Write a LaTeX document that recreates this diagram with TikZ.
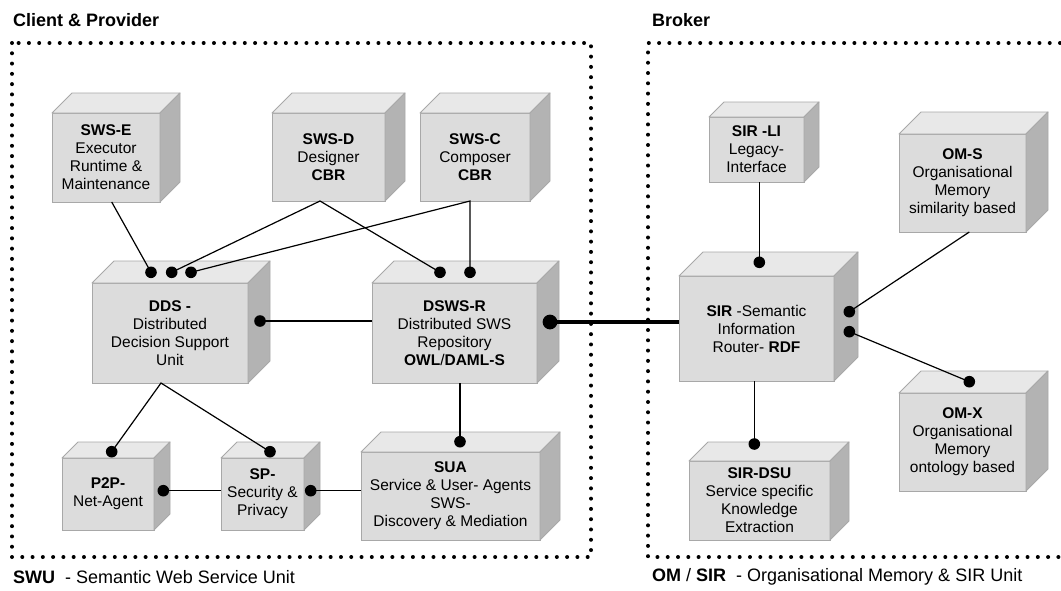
\documentclass[tikz,border=0pt]{standalone}
\usepackage{fontspec}
\setmainfont{Liberation Sans}
\definecolor{frontcol}{HTML}{DCDCDC}
\definecolor{topcol}{HTML}{E8E8E8}
\definecolor{sidecol}{HTML}{B3B3B3}
\definecolor{edgecol}{HTML}{A8A8A8}
\tikzset{
  front/.style={draw=edgecol, fill=frontcol, line width=0.9pt, rectangle, inner sep=0pt, outer sep=0pt, align=center, font=\fontsize{15.5}{18}\selectfont},
  topface/.style={draw=edgecol, fill=topcol, line width=0.9pt, line join=round},
  sideface/.style={draw=edgecol, fill=sidecol, line width=0.9pt, line join=round},
  conn/.style={draw=black, line width=1.2pt},
  thickconn/.style={draw=black, line width=3.3pt},
  dotframe/.style={draw=black, line width=4pt, dash pattern=on 0pt off 10.28pt, line cap=round},
  lbl/.style={anchor=west, inner sep=0pt, font=\fontsize{18}{21}\selectfont},
}
% name, cx, cy, w, h, depth, text
\newcommand\cubebox[7]{%
  \node[front, minimum width=#4pt, minimum height=#5pt] (#1) at (#2,#3) {#7};
  \path[topface] (#1.north west) -- ++(#6,-#6) -- ++(#4,0) -- (#1.north east) -- cycle;
  \path[sideface] (#1.north east) -- ++(#6,-#6) -- ++(0,#5) -- (#1.south east) -- cycle;
}
\newcommand\smalldot[1]{\fill[black] (#1) circle[radius=5.8pt];}
\newcommand\bigdot[1]{\fill[black] (#1) circle[radius=7.4pt];}
\begin{document}
\begin{tikzpicture}[x=1pt, y=-1pt]
\useasboundingbox (0,0) rectangle (1061,590);

% frames
\path[dotframe] (12,43) rectangle (591,557);
\path[dotframe] (1070.3,43) -- (648,43) -- (648,557) -- (1070.3,557);

% labels
\node[lbl, font=\fontsize{18}{21}\selectfont\bfseries] (tl) at (13,20) {Client \& Provider};
\node[lbl, font=\fontsize{18}{21}\selectfont\bfseries] (tr) at (652,20) {Broker};
\node[lbl] (bl) at (13,577) {\textbf{SWU} \ - Semantic Web Service Unit};
\node[lbl] (br) at (652,577) {\textbf{OM} / \textbf{SIR} \ - Organisational Memory \& SIR Unit};

% boxes
\cubebox{swse}{106}{157.5}{108}{89}{20}{\textbf{SWS-E}\\Executor\\Runtime \&\\Maintenance}
\cubebox{swsd}{328.5}{157}{113}{88}{20}{\textbf{SWS-D}\\Designer\\\textbf{CBR}}
\cubebox{swsc}{475}{157}{110}{88}{20}{\textbf{SWS-C}\\Composer\\\textbf{CBR}}
\cubebox{dds}{170}{333}{156}{100}{22}{\textbf{DDS -}\\Distributed\\Decision Support\\Unit}
\cubebox{dswsr}{454.5}{333}{165}{100}{22}{\textbf{DSWS-R}\\Distributed SWS\\Repository\\\textbf{OWL}/\textbf{DAML-S}}
\cubebox{p2p}{108}{494}{92}{72}{16}{\textbf{P2P-}\\Net-Agent}
\cubebox{sp}{262.5}{494}{83}{72}{16}{\textbf{SP-}\\Security \&\\Privacy}
\cubebox{sua}{450.5}{496}{179}{88}{20}{\textbf{SUA}\\Service \& User- Agents\\SWS-\\Discovery \& Mediation}
\cubebox{sirli}{756.5}{149.5}{95}{65}{15}{\textbf{SIR -LI}\\Legacy-\\Interface}
\cubebox{oms}{962.5}{183}{127}{98}{22}{\textbf{OM-S}\\Organisational\\Memory\\similarity based}
\cubebox{sir}{756.5}{328.5}{155}{105}{24}{\textbf{SIR} -Semantic\\Information\\Router- \textbf{RDF}}
\cubebox{sirdsu}{759.5}{500.5}{141}{79}{19}{\textbf{SIR-DSU}\\Service specific\\Knowledge\\Extraction}
\cubebox{omx}{962.5}{442}{127}{98}{22}{\textbf{OM-X}\\Organisational\\Memory\\ontology based}

% connection points
\coordinate (ddsA) at (151,272.3);
\coordinate (ddsB) at (171.7,272.3);
\coordinate (ddsC) at (191,272.3);
\coordinate (ddsR) at (260,321);
\coordinate (dswA) at (440,272.3);
\coordinate (dswB) at (470,272.3);
\coordinate (dswR) at (550,322);
\coordinate (p2pT) at (111.7,451.7);
\coordinate (p2pR) at (163.3,490.7);
\coordinate (spT) at (270,451.7);
\coordinate (spR) at (310.7,490.7);
\coordinate (suaT) at (460,441.7);
\coordinate (sirT) at (759.3,262.3);
\coordinate (sirA) at (849.3,311.7);
\coordinate (sirB) at (849.3,331.7);
\coordinate (omxT) at (969.3,381.7);
\coordinate (dsuT) at (754.3,444);

% connectors
\draw[conn] ([xshift=5.7pt]swse.south) -- (ddsA);
\draw[conn] (ddsB) -- ([xshift=-8.5pt]swsd.south) -- (dswA);
\draw[conn] (ddsC) -- ([xshift=-5pt]swsc.south) -- (dswB);
\draw[conn] (ddsR) -- (dswsr.west |- ddsR);
\draw[thickconn] (dswR) -- (sir.west |- dswR);
\draw[conn] (p2pT) -- ([xshift=-9pt]dds.south) -- (spT);
\draw[conn] ([xshift=5.5pt]dswsr.south) -- (suaT);
\draw[conn] (p2pR) -- (sp.west |- p2pR);
\draw[conn] (spR) -- (sua.west |- spR);
\draw[conn] (sirli.south -| sirT) -- (sirT);
\draw[conn] ([xshift=6.8pt]oms.south) -- (sirA);
\draw[conn] (sirB) -- (omxT);
\draw[conn] (sir.south -| dsuT) -- (dsuT);

% dots
\smalldot{ddsA}\smalldot{ddsB}\smalldot{ddsC}\smalldot{ddsR}
\smalldot{dswA}\smalldot{dswB}\bigdot{dswR}
\smalldot{p2pT}\smalldot{p2pR}\smalldot{spT}\smalldot{spR}\smalldot{suaT}
\smalldot{sirT}\smalldot{sirA}\smalldot{sirB}\smalldot{omxT}\smalldot{dsuT}
\end{tikzpicture}
\end{document}
